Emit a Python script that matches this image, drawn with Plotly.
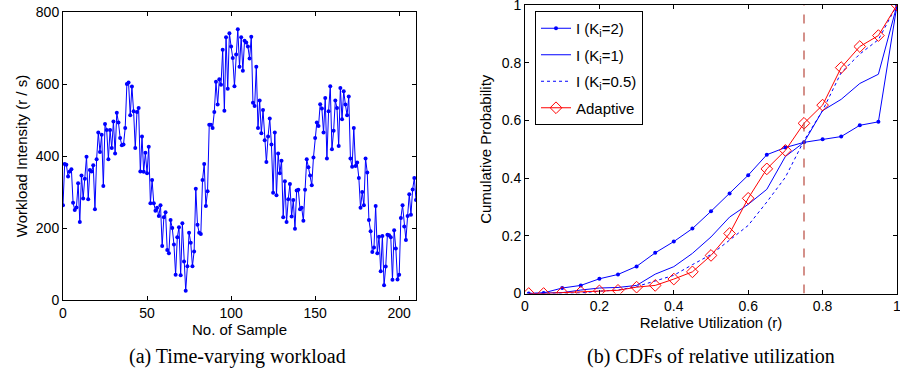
import plotly.graph_objects as go

# ---------------- data: (a) time-varying workload ----------------
workload = [263, 378, 376, 343, 357, 363, 270, 250, 257, 324, 217, 346, 282, 337, 398, 280, 361, 357, 374, 252,
            391, 465, 411, 459, 317, 489, 472, 391, 472, 422, 496, 407, 520, 493, 450, 430, 432, 478, 600, 604,
            513, 593, 524, 422, 522, 533, 357, 454, 356, 409, 352, 426, 269, 333, 269, 248, 256, 233, 263, 150,
            230, 244, 139, 130, 222, 200, 154, 70, 174, 202, 69, 213, 107, 26, 94, 187, 159, 94, 135, 309,
            209, 187, 183, 333, 378, 261, 302, 487, 487, 478, 522, 606, 543, 613, 598, 695, 526, 730, 587, 741,
            704, 672, 594, 682, 752, 648, 730,
            637, 720, 715, 704, 671, 731, 548, 539, 648, 478, 554, 463, 528, 444, 383, 454, 504, 432, 298, 465,
            291, 407, 352, 387, 230, 330, 217, 280, 322, 232, 278, 198, 304, 306, 252, 256, 220, 306, 391, 369,
            346, 319, 396, 450, 493, 483, 544, 532, 465, 561, 393, 524, 594, 419, 470, 554, 533, 428, 589, 502,
            580, 543, 513, 565, 393, 370, 478, 372, 382, 339, 256, 300, 263, 393, 354, 222, 191, 133, 146, 261,
            130, 176, 80, 178, 41, 93, 181, 180, 174, 56, 194, 143, 57, 70, 228, 263, 204, 167, 233, 294,
            237, 307, 339, 278]
samples = list(range(len(workload)))
left_xticks = [0, 50, 100, 150, 200]
left_yticks = [0, 200, 400, 600, 800]

# ---------------- data: (b) CDFs of relative utilization ----------------
util = [0.01, 0.05, 0.10, 0.15, 0.20, 0.25, 0.30, 0.35, 0.40, 0.45, 0.50,
        0.55, 0.60, 0.65, 0.70, 0.75, 0.80, 0.85, 0.90, 0.95, 1.00]
cdf_k2 = [0.0, 0.002, 0.019, 0.028, 0.051, 0.066, 0.094, 0.141, 0.18, 0.225, 0.285,
          0.347, 0.41, 0.481, 0.506, 0.524, 0.535, 0.544, 0.583, 0.595, 1.0]
cdf_k1 = [0.0, 0.002, 0.003, 0.012, 0.019, 0.021, 0.028, 0.067, 0.093, 0.139, 0.196,
          0.265, 0.309, 0.361, 0.475, 0.524, 0.634, 0.673, 0.728, 0.76, 1.0]
cdf_k05 = [0.0, 0.0, 0.0, 0.002, 0.008, 0.012, 0.024, 0.044, 0.063, 0.10, 0.135,
           0.185, 0.236, 0.317, 0.403, 0.53, 0.634, 0.766, 0.83, 0.88, 1.0]
cdf_adaptive = [0.0, 0.0, 0.003, 0.005, 0.009, 0.011, 0.022, 0.028, 0.05, 0.075, 0.132,
                0.208, 0.33, 0.432, 0.496, 0.59, 0.653, 0.783, 0.856, 0.894, 1.0]
threshold = 0.75
right_ticks = [0, 0.2, 0.4, 0.6, 0.8, 1]
right_ticktext = ["0", "0.2", "0.4", "0.6", "0.8", "1"]

names = ["I (K<sub>i</sub>=2)", "I (K<sub>i</sub>=1)", "I (K<sub>i</sub>=0.5)", "Adaptive"]

BLUE = "#0000ff"
RED = "#ff0000"
SANS = "Liberation Sans, Arial, sans-serif"
SERIF = "Liberation Serif, Times New Roman, serif"

W, H = 900, 377


def px(x):
    return x / W


def py(y):
    return 1 - y / H


fig = go.Figure()

fig.add_trace(go.Scatter(x=samples, y=workload, mode="lines+markers",
                         line=dict(color=BLUE, width=1), marker=dict(color=BLUE, size=4),
                         xaxis="x", yaxis="y", showlegend=False))

fig.add_trace(go.Scatter(x=util, y=cdf_k2, mode="lines+markers", name=names[0],
                         line=dict(color=BLUE, width=1), marker=dict(color=BLUE, size=4),
                         xaxis="x2", yaxis="y2", legendgroup="a"))
fig.add_trace(go.Scatter(x=util, y=cdf_k1, mode="lines", name=names[1],
                         line=dict(color=BLUE, width=1),
                         xaxis="x2", yaxis="y2", legendgroup="b"))
fig.add_trace(go.Scatter(x=util, y=cdf_k05, mode="lines", name=names[2],
                         line=dict(color=BLUE, width=1, dash="dot"),
                         xaxis="x2", yaxis="y2", legendgroup="c"))
fig.add_trace(go.Scatter(x=util, y=cdf_adaptive, mode="lines+markers", name=names[3],
                         line=dict(color=RED, width=1),
                         marker=dict(symbol="diamond-open", color=RED, size=9, line=dict(width=1)),
                         xaxis="x2", yaxis="y2", legendgroup="d"))
fig.add_trace(go.Scatter(x=[threshold, threshold], y=[0, 1], mode="lines",
                         line=dict(color="#b8473c", width=1.2, dash="dash"),
                         xaxis="x2", yaxis="y2", showlegend=False, hoverinfo="skip"))

axis_common = dict(showline=True, linecolor="black", linewidth=1, mirror="ticks",
                   ticks="inside", ticklen=4, tickcolor="black", showgrid=False,
                   zeroline=False, automargin=False, ticklabeloverflow="allow",
                   tickfont=dict(family=SANS, size=14, color="black"),
                   title_font=dict(family=SANS, size=15, color="black"))

fig.update_layout(
    width=W, height=H,
    margin=dict(l=0, r=0, t=0, b=0),
    paper_bgcolor="white", plot_bgcolor="white",
    xaxis=dict(domain=[px(63), px(416)], range=[0, 210], tickmode="array", tickvals=left_xticks,
               anchor="y", title=dict(text="No. of Sample", standoff=2), **axis_common),
    yaxis=dict(domain=[py(300), py(12)], range=[0, 800], tickmode="array", tickvals=left_yticks,
               anchor="x", title=dict(text="Workload Intensity (r / s)", standoff=4), **axis_common),
    xaxis2=dict(domain=[px(525), px(897)], range=[0, 1], tickmode="array", tickvals=right_ticks,
                ticktext=right_ticktext, anchor="y2",
                title=dict(text="Relative Utilization (r)", standoff=2), **axis_common),
    yaxis2=dict(domain=[py(293.5), py(5)], range=[0, 1], tickmode="array", tickvals=right_ticks,
                ticktext=right_ticktext, anchor="x2",
                title=dict(text="Cumulative Probability", standoff=6), **axis_common),
    legend=dict(x=px(535), y=py(11), xanchor="left", yanchor="top",
                bgcolor="white", bordercolor="black", borderwidth=1,
                font=dict(family=SANS, size=15, color="black"),
                tracegroupgap=4, itemwidth=30),
    showlegend=True,
    annotations=[
        dict(text="(a) Time-varying workload", x=px(238), y=py(356), xref="paper", yref="paper",
             showarrow=False, font=dict(family=SERIF, size=20, color="black"),
             xanchor="center", yanchor="middle"),
        dict(text="(b) CDFs of relative utilization", x=px(711), y=py(356), xref="paper", yref="paper",
             showarrow=False, font=dict(family=SERIF, size=20, color="black"),
             xanchor="center", yanchor="middle"),
    ],
)

fig.write_html("out.html", config={"displayModeBar": False},
               post_script="document.body.style.margin='0px';")
